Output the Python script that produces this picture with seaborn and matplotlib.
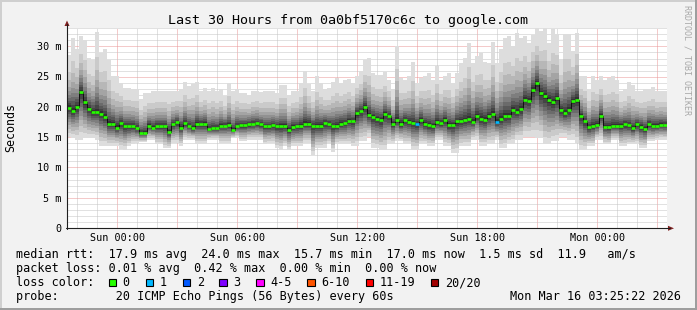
import numpy as np
import matplotlib
matplotlib.use("Agg")
import matplotlib.pyplot as plt
from matplotlib.patches import Rectangle, Polygon
from matplotlib.lines import Line2D
from matplotlib.ticker import MultipleLocator
import seaborn as sns

# ---------------- data ----------------
title = "Last 30 Hours from 0a0bf5170c6c to google.com"
x_tick_hours = [0, 6, 12, 18, 24]
x_tick_labels = ["Sun 00:00", "Sun 06:00", "Sun 12:00", "Sun 18:00", "Mon 00:00"]
y_ticks = [0, 5, 10, 15, 20, 25, 30]
y_tick_labels = ["0", "5 m", "10 m", "15 m", "20 m", "25 m", "30 m"]

start_hour = -2.515      # left edge of the graph, hours relative to Sun 00:00
bin_hours = 0.2          # 12 minute steps

median_ms = [
    19.9, 19.4, 20.0, 22.5, 20.8, 19.7, 19.2, 19.2, 18.9, 18.4,
    17.2, 17.25, 16.6, 17.3, 16.8, 16.8, 16.8, 16.5, 15.7, 15.7,
    16.9, 16.6, 16.85, 16.85, 16.85, 15.9, 17.1, 17.45, 16.6, 17.3,
    16.8, 16.5, 17.2, 17.2, 17.2, 16.35, 16.45, 16.45, 16.9, 16.9,
    17.0, 16.25, 16.85, 16.95, 16.95, 17.1, 17.2, 17.3, 17.1, 16.8,
    16.8, 16.95, 16.8, 16.85, 16.85, 16.25, 16.7, 16.8, 16.9, 17.25,
    17.25, 16.85, 16.9, 16.9, 17.35, 17.15, 16.8, 16.9, 17.25, 17.3,
    17.7, 17.6, 18.95, 19.3, 20.0, 18.7, 18.3, 18.0, 17.8, 18.85,
    18.5, 17.25, 17.9, 17.2, 17.8, 17.5, 17.3, 17.15, 17.85, 17.15,
    16.95, 16.8, 17.5, 17.3, 17.8, 16.95, 17.0, 17.6, 17.6, 17.8,
    18.05, 17.55, 18.5, 18.05, 17.9, 18.5, 18.85, 17.55, 18.05, 18.5,
    18.5, 19.55, 19.2, 19.65, 21.2, 21.05, 22.85, 23.95, 22.25, 21.85,
    21.2, 20.8, 21.4, 19.45, 19.0, 19.45, 20.9, 21.2, 18.55, 17.6,
    16.65, 16.9, 17.05, 18.55, 16.75, 16.65, 16.9, 16.9, 16.9, 17.15,
    16.95, 16.5, 17.1, 16.7, 16.35, 17.15, 16.9, 16.9, 17.05, 17.0,
]

ping_max_ms = [
    28.5, 31.4, 29.5, 31.7, 31.1, 28.1, 27.8, 32.4, 28.9, 29.5,
    27.8, 25.1, 25.1, 24.0, 23.2, 23.2, 23.0, 23.0, 21.3, 22.3,
    22.3, 22.6, 22.6, 22.6, 22.6, 22.6, 22.6, 22.6, 23.0, 24.1,
    23.4, 23.8, 24.2, 22.6, 23.1, 22.6, 23.1, 22.6, 22.9, 21.8,
    24.0, 22.6, 22.9, 22.3, 22.3, 22.0, 22.6, 22.6, 22.4, 22.6,
    22.6, 22.6, 22.3, 23.7, 23.7, 22.0, 22.6, 22.6, 23.9, 25.9,
    23.85, 22.6, 25.1, 23.9, 22.9, 23.1, 24.2, 24.8, 23.9, 24.5,
    24.6, 23.9, 25.1, 25.9, 27.8, 28.1, 25.6, 25.3, 25.3, 25.7,
    24.5, 22.9, 30.1, 24.8, 24.5, 25.1, 27.5, 24.0, 24.8, 25.1,
    25.6, 24.5, 26.7, 24.5, 25.1, 25.6, 23.9, 25.6, 27.3, 28.1,
    30.6, 27.3, 28.4, 28.9, 27.5, 27.3, 30.7, 27.3, 29.5, 31.4,
    31.7, 30.1, 32.2, 31.4, 31.7, 30.5, 31.9, 33.0, 32.5, 33.0,
    30.6, 32.8, 32.0, 28.0, 32.0, 32.0, 29.2, 32.2, 25.1, 25.1,
    22.9, 25.1, 24.5, 25.1, 24.5, 24.8, 25.1, 24.5, 22.6, 22.9,
    24.2, 23.6, 22.6, 22.6, 22.9, 22.9, 23.3, 22.6, 22.6, 22.6,
]

ping_min_ms = [
    15.0, 14.8, 14.6, 14.6, 14.8, 14.8, 14.8, 14.6, 13.6, 13.6,
    13.5, 13.5, 13.6, 13.0, 12.9, 13.5, 13.9, 14.0, 14.2, 14.2,
    14.6, 14.6, 13.8, 13.8, 13.2, 13.2, 14.0, 14.0, 13.5, 14.6,
    14.6, 14.6, 13.8, 13.8, 13.8, 14.6, 14.6, 14.6, 14.0, 14.0,
    14.0, 14.9, 14.9, 14.3, 14.3, 14.6, 14.6, 14.6, 14.6, 13.8,
    14.0, 14.0, 13.2, 12.9, 13.5, 12.9, 13.5, 13.5, 13.5, 14.0,
    14.0, 12.0, 13.2, 13.2, 13.2, 13.8, 12.6, 13.8, 13.8, 13.8,
    13.8, 13.5, 13.5, 14.3, 14.3, 15.1, 13.2, 13.2, 12.9, 12.9,
    13.8, 13.8, 14.3, 14.3, 13.8, 13.8, 12.9, 12.9, 13.8, 13.8,
    13.5, 13.5, 14.6, 14.6, 13.5, 13.5, 12.4, 12.4, 13.5, 13.5,
    13.5, 14.6, 14.6, 13.5, 13.5, 13.8, 13.8, 14.6, 13.2, 13.2,
    13.8, 13.8, 14.6, 14.6, 15.1, 15.1, 15.1, 14.9, 14.9, 13.8,
    13.8, 14.3, 14.3, 15.1, 15.1, 14.6, 14.6, 14.0, 12.9, 12.9,
    13.5, 13.5, 14.6, 14.6, 13.8, 13.8, 14.6, 14.6, 13.5, 13.5,
    13.8, 13.8, 13.8, 13.2, 13.2, 14.3, 14.3, 14.6, 14.6, 14.6,
]

loss_one_bins = [87, 107]   # bins where 1 of 20 pings was lost

loss_labels = ["0", "1", "2", "3", "4-5", "6-10", "11-19", "20/20"]
loss_colors = ["#26ff00", "#00b8ff", "#0059ff", "#7e00ff", "#ff00ff",
               "#ff5500", "#ff0000", "#a10000"]

legend_line1 = "median rtt:  17.9 ms avg  24.0 ms max  15.7 ms min  17.0 ms now  1.5 ms sd  11.9   am/s"
legend_line2 = "packet loss: 0.01 % avg  0.42 % max  0.00 % min  0.00 % now"
legend_line4 = "probe:        20 ICMP Echo Pings (56 Bytes) every 60s"
timestamp = "Mon Mar 16 03:25:22 2026"
watermark = "RRDTOOL / TOBI OETIKER"

# ---------------- style constants ----------------
W, H = 697, 310
MONO = "DejaVu Sans Mono"
# relative placement of the 20 sorted pings between min / median / max
low_frac = [1.0, 0.85, 0.72, 0.60, 0.50, 0.40, 0.31, 0.23, 0.15, 0.07]   # p1..p10
up_frac = [0.04, 0.08, 0.13, 0.18, 0.24, 0.31, 0.40, 0.52, 0.68, 1.0]    # p11..p20

sns.set_style("white")
plt.rcParams["font.family"] = [MONO, "DejaVu Sans"]


def fx(x):
    return x / W


def fy(y):
    return 1 - y / H


fig = plt.figure(figsize=(W / 100, H / 100), dpi=100)
fig.patch.set_facecolor("#f2f2f2")

# 3D frame
fig.add_artist(Rectangle((0, fy(2)), 1, 2 / H, transform=fig.transFigure,
                         color="#cfcfcf", lw=0))
fig.add_artist(Rectangle((0, 0), 2 / W, 1, transform=fig.transFigure,
                         color="#cfcfcf", lw=0))
fig.add_artist(Rectangle((0, 0), 1, 2 / H, transform=fig.transFigure,
                         color="#9e9e9e", lw=0))
fig.add_artist(Rectangle((fx(W - 2), 0), 2 / W, 1, transform=fig.transFigure,
                         color="#9e9e9e", lw=0))

ax_left, ax_right, ax_top, ax_bottom = 67, 667, 28, 228
ax = fig.add_axes([fx(ax_left), fy(ax_bottom), (ax_right - ax_left) / W,
                   (ax_bottom - ax_top) / H])
ax.set_facecolor("white")
px_per_ms = 6.053
ax.set_xlim(start_hour, start_hour + 30)
ax.set_ylim(0, (ax_bottom - ax_top) / px_per_ms)
for s in ax.spines.values():
    s.set_visible(False)

n = len(median_ms)
edges = start_hour + bin_hours * np.arange(n + 1)
med = np.array(median_ms)
mx = np.array(ping_max_ms)
mn = np.array(ping_min_ms)

pings = [med - (med - mn) * f for f in low_frac] + [med + (mx - med) * f for f in up_frac]


def ext(a):
    return np.append(a, a[-1])


for i in range(19):
    g = 50 + 19 * abs(9 - i)
    col = "#{0:02x}{0:02x}{0:02x}".format(g)
    ax.fill_between(edges, ext(pings[i]), ext(pings[i + 1]), step="post",
                    color=col, lw=0, zorder=1)

# grid
ax.xaxis.set_major_locator(MultipleLocator(3))
ax.xaxis.set_minor_locator(MultipleLocator(1))
ax.yaxis.set_major_locator(MultipleLocator(5))
ax.yaxis.set_minor_locator(MultipleLocator(1))
ax.set_axisbelow(True)
ax.grid(which="minor", color="#c4c4c4", linestyle=(0, (1, 1)), linewidth=0.72)
ax.grid(which="major", color="#eb9696", linestyle=(0, (1, 1)), linewidth=0.72)
ax.set_xticklabels([])
ax.set_yticklabels([])
ax.tick_params(axis="x", which="major", length=3, color="#eb9696", width=0.7)
ax.tick_params(axis="x", which="minor", length=2, color="#c4c4c4", width=0.7)
ax.tick_params(axis="y", which="major", length=3, color="#1f1f1f", width=0.7)
ax.tick_params(axis="y", which="minor", length=2, color="#aaaaaa", width=0.7)

# median line: thin black steps, thick loss-coloured segments
sns.lineplot(x=edges, y=ext(med), drawstyle="steps-post", color="#101010",
             linewidth=0.7, ax=ax, zorder=5)
seg_colors = [loss_colors[1] if i in loss_one_bins else loss_colors[0] for i in range(n)]
ax.hlines(med, edges[:-1], edges[1:], colors=seg_colors, linewidth=1.9, zorder=6)

# axes lines with arrows
fig.add_artist(Line2D([fx(67), fx(67)], [fy(228.5), fy(24)], color="#1f1f1f", lw=0.8))
fig.add_artist(Line2D([fx(66), fx(670)], [fy(228.3), fy(228.3)], color="#1f1f1f", lw=0.8))
fig.add_artist(Polygon([[fx(64.5), fy(26)], [fx(69.5), fy(26)], [fx(67), fy(20.5)]],
                       closed=True, transform=fig.transFigure, color="#801f1f", lw=0))
fig.add_artist(Polygon([[fx(668), fy(225.8)], [fx(668), fy(230.8)], [fx(674), fy(228.3)]],
                       closed=True, transform=fig.transFigure, color="#801f1f", lw=0))

# tick labels
for h, lab in zip(x_tick_hours, x_tick_labels):
    xpix = ax_left + (h - start_hour) * 20.0
    fig.text(fx(xpix), fy(240.7), lab, ha="center", va="baseline",
             fontsize=7.3, family=MONO, color="#000000")
for v, lab in zip(y_ticks, y_tick_labels):
    ypix = ax_bottom - v * px_per_ms
    fig.text(fx(61), fy(ypix + 3.8), lab, ha="right", va="baseline",
             fontsize=7.3, family=MONO, color="#000000")

# title, unit, watermark
fig.text(fx(348), fy(24), title, ha="center", va="baseline", fontsize=9.6,
         family=MONO, color="#000000")
fig.text(fx(10.5), fy(127.5), "Seconds", ha="center", va="center", rotation=90,
         fontsize=8.4, family=MONO, color="#000000")
fig.text(fx(687.5), fy(60), watermark, ha="center", va="center", rotation=-90,
         fontsize=6.0, family=MONO, color="#a8a8a8")

# legend
fig.text(fx(16), fy(258), legend_line1, ha="left", va="baseline", fontsize=8.5,
         family=MONO, color="#000000")
fig.text(fx(16), fy(272), legend_line2, ha="left", va="baseline", fontsize=8.5,
         family=MONO, color="#000000")
fig.text(fx(16), fy(286), "loss color:", ha="left", va="baseline", fontsize=8.5,
         family=MONO, color="#000000")
box_x = [108.7, 145.7, 182.7, 219.3, 256.3, 307.3, 365.7, 430.7]
for bx, lab, col in zip(box_x, loss_labels, loss_colors):
    fig.add_artist(Rectangle((fx(bx), fy(286.2)), 7.4 / W, 7.4 / H,
                             transform=fig.transFigure, facecolor=col,
                             edgecolor="#000000", lw=0.8))
    fig.text(fx(bx + 14), fy(286), lab, ha="left", va="baseline", fontsize=8.5,
             family=MONO, color="#000000")
fig.text(fx(16), fy(300), legend_line4, ha="left", va="baseline", fontsize=8.5,
         family=MONO, color="#000000")
fig.text(fx(681), fy(300), timestamp, ha="right", va="baseline", fontsize=8.5,
         family=MONO, color="#000000")

fig.savefig("out.png", dpi=100, facecolor=fig.get_facecolor())
